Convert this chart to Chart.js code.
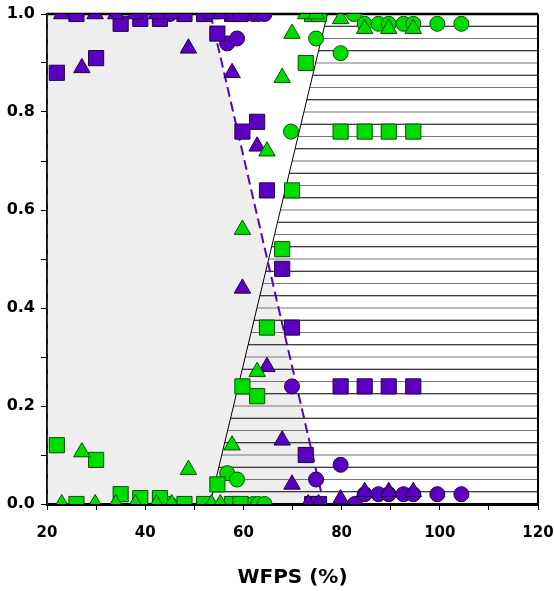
<!DOCTYPE html>
<html>
<head>
<meta charset="utf-8">
<script src="https://cdn.jsdelivr.net/npm/chart.js@4.4.0/dist/chart.umd.min.js"></script>
<style>
  html, body { margin: 0; padding: 0; background: #fff; }
  #wrap { width: 554px; height: 591px; }
</style>
</head>
<body>
<div id="wrap"><canvas id="chart"></canvas></div>
<script>
// Data points: [WFPS (%), fraction]
const purpleSquares = [[22,0.88],[26,1],[30,0.91],[35,0.98],[39,0.99],[43,0.99],[48,1],[52,1],[54.7,0.96],[57.7,1],[59.4,1],
  [59.8,0.76],[62.8,0.78],[64.8,0.64],[67.9,0.48],[69.9,0.36],[72.7,0.10],[74,0],[75.4,0],[79.8,0.24],[84.7,0.24],[89.6,0.24],[94.6,0.24]];
const greenSquares = [[22,0.12],[26,0],[30,0.09],[35,0.02],[39,0.012],[43,0.012],[48,0],[52,0],[54.7,0.04],[57.7,0],[59.4,0],
  [59.8,0.24],[62.8,0.22],[64.8,0.36],[67.9,0.52],[69.9,0.64],[72.7,0.90],[74,1],[75.4,1],[79.8,0.76],[84.7,0.76],[89.6,0.76],[94.6,0.76]];
const purpleTriangles = [[23,1],[27.1,0.89],[29.8,1],[34,1],[38,1],[42.3,1],[45.4,1],[48.8,0.93],[53.5,1],[55.3,1],[57.7,0.88],
  [59.8,0.44],[62.8,0.73],[64.8,0.28],[67.9,0.13],[69.9,0.04],[73.2,0],[75.3,0],[79.8,0.01],[84.7,0.025],[89.6,0.025],[94.6,0.025]];
const greenTriangles = [[23,0],[27.1,0.106],[29.8,0],[34,0],[38,0],[42.3,0],[45.4,0],[48.8,0.07],[53.5,0],[55.3,0],[57.7,0.12],
  [59.8,0.56],[62.8,0.27],[64.8,0.72],[67.9,0.87],[69.9,0.96],[72.7,1],[74.8,1],[79.8,0.99],[84.7,0.97],[89.6,0.97],[94.6,0.97]];
const purpleCircles = [[45,1],[56.7,0.94],[58.7,0.95],[60.5,1],[62,1],[63,1],[64.3,1],[69.9,0.24],[74.8,0.05],[79.8,0.08],
  [82.7,0],[84.7,0.02],[87.5,0.02],[89.6,0.02],[92.6,0.02],[94.6,0.02],[99.5,0.02],[104.4,0.02]];
const greenCircles = [[45,0],[56.7,0.063],[58.7,0.05],[60.5,0],[62,0],[63,0],[64.3,0],[69.7,0.76],[74.8,0.95],[79.8,0.92],
  [82.5,1],[84.7,0.98],[87.5,0.98],[89.6,0.98],[92.6,0.98],[94.6,0.98],[99.5,0.98],[104.4,0.98]];

// boundary lines
const dashedEdge = [[53.3,1],[76.4,0]];
const leftEdge = [[20,0],[20,1]];
const solidEdge = [[53.2,0],[77.1,1]];
const hatchStep = 0.025;

const PURPLE = '#5b00c2', PURPLE_LINE = '#1e0045';
const GREEN = '#00dc00', GREEN_LINE = '#005000';

const toXY = arr => arr.map(p => ({ x: p[0], y: p[1] }));

function markerSet(arr, style, radius, fill, line, order) {
  return {
    data: toXY(arr),
    pointStyle: style,
    pointRadius: radius,
    pointBackgroundColor: fill,
    pointBorderColor: line,
    pointBorderWidth: 1,
    showLine: false,
    order: order
  };
}

function lineSet(arr, color, width, dash, order) {
  return {
    data: toXY(arr),
    showLine: true,
    borderColor: color,
    borderWidth: width,
    borderDash: dash,
    pointRadius: 0,
    fill: false,
    order: order
  };
}

// grey zone left of the dashed line, hatching right of the solid line
const backgroundPlugin = {
  id: 'zones',
  beforeDraw(chart) {
    const { ctx, chartArea: a, scales: { x, y } } = chart;
    ctx.save();
    ctx.beginPath();
    ctx.rect(a.left, a.top, a.right - a.left, a.bottom - a.top);
    ctx.clip();

    ctx.fillStyle = '#eeeeee';
    ctx.beginPath();
    ctx.moveTo(x.getPixelForValue(20), y.getPixelForValue(0));
    ctx.lineTo(x.getPixelForValue(20), y.getPixelForValue(1));
    dashedEdge.forEach(p => ctx.lineTo(x.getPixelForValue(p[0]), y.getPixelForValue(p[1])));
    ctx.closePath();
    ctx.fill();

    const [p0, p1] = solidEdge;
    ctx.lineWidth = 1.2;
    for (let i = 0; i <= Math.round(1 / hatchStep); i++) {
      const v = i * hatchStep;
      const xs = p0[0] + (p1[0] - p0[0]) * (v - p0[1]) / (p1[1] - p0[1]);
      const py = y.getPixelForValue(v);
      ctx.strokeStyle = i % 2 ? '#000' : '#777';
      ctx.beginPath();
      ctx.moveTo(x.getPixelForValue(xs), py);
      ctx.lineTo(x.getPixelForValue(120), py);
      ctx.stroke();
    }
    ctx.restore();

    // top and right frame
    ctx.save();
    ctx.strokeStyle = '#000';
    ctx.lineWidth = 2.5;
    ctx.beginPath();
    ctx.moveTo(a.left, a.top);
    ctx.lineTo(a.right, a.top);
    ctx.stroke();
    ctx.lineWidth = 2;
    ctx.beginPath();
    ctx.moveTo(a.right, a.top);
    ctx.lineTo(a.right, a.bottom);
    ctx.stroke();
    ctx.restore();
  }
};

const yTickFont = { family: 'DejaVu Sans', weight: 'bold', size: 16 };
const xTickFont = { family: 'DejaVu Sans', weight: 'bold', size: 15 };

new Chart(document.getElementById('chart'), {
  type: 'scatter',
  data: {
    datasets: [
      markerSet(greenTriangles, 'triangle', 9.5, GREEN, GREEN_LINE, 1),
      markerSet(purpleTriangles, 'triangle', 9.5, PURPLE, PURPLE_LINE, 2),
      markerSet(greenSquares, 'rect', 10.7, GREEN, GREEN_LINE, 3),
      markerSet(purpleSquares, 'rect', 10.7, PURPLE, PURPLE_LINE, 4),
      markerSet(greenCircles, 'circle', 7.5, GREEN, GREEN_LINE, 5),
      markerSet(purpleCircles, 'circle', 7.5, PURPLE, PURPLE_LINE, 6),
      lineSet(dashedEdge, PURPLE, 2, [10, 5], 7),
      lineSet(leftEdge, PURPLE, 2, [10, 5], 8),
      lineSet(solidEdge, '#000', 1, [], 9)
    ]
  },
  options: {
    responsive: true,
    maintainAspectRatio: false,
    animation: false,
    layout: { padding: { top: 14, right: 16, left: 0, bottom: 0 } },
    plugins: { legend: { display: false }, tooltip: { enabled: false } },
    scales: {
      x: {
        type: 'linear', min: 20, max: 120,
        ticks: {
          stepSize: 10, autoSkip: false, maxRotation: 0, padding: 14,
          color: '#000', font: xTickFont,
          callback: v => (v % 20 === 0 ? v : '')
        },
        grid: { drawOnChartArea: false, tickLength: 6, color: '#000' },
        border: { color: '#000', width: 3 },
        title: {
          display: true, text: 'WFPS (%)', color: '#000',
          padding: { top: 4, bottom: 1 },
          font: { family: 'DejaVu Sans', weight: 'bold', size: 20 }
        },
        afterFit: s => { s.height = 87; s.paddingLeft = 0; s.paddingRight = 0; }
      },
      y: {
        min: 0, max: 1,
        ticks: {
          stepSize: 0.1, autoSkip: false, padding: 6,
          color: '#000', font: yTickFont,
          callback: v => (Math.round(v * 10) % 2 === 0 ? v.toFixed(1) : '')
        },
        grid: { drawOnChartArea: false, tickLength: 6, color: '#000' },
        border: { color: '#111', width: 2 },
        afterFit: s => { s.width = 47; s.paddingTop = 0; s.paddingBottom = 0; }
      }
    }
  },
  plugins: [backgroundPlugin]
});
</script>
</body>
</html>
